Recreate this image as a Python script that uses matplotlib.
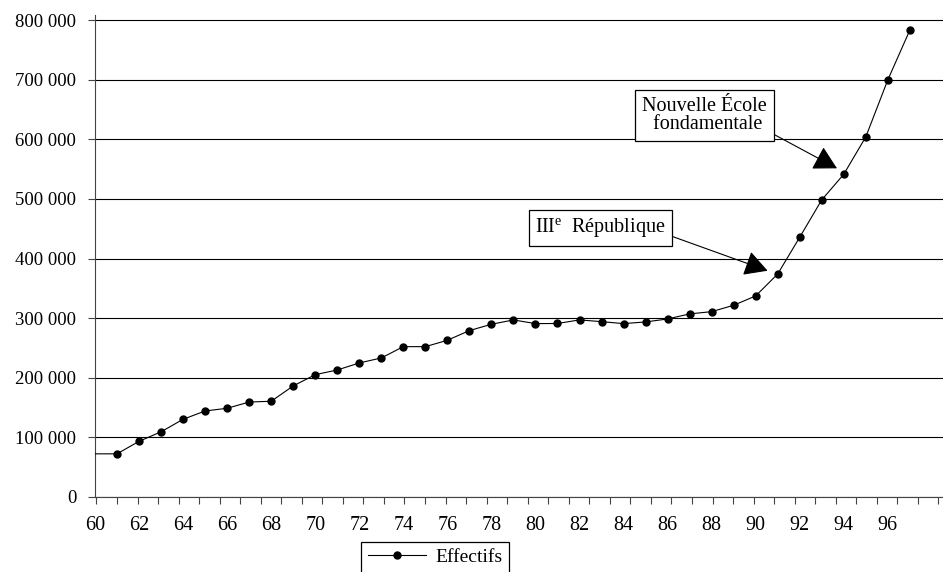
import matplotlib
matplotlib.use("Agg")
import matplotlib.pyplot as plt
import numpy as np

plt.rcParams['font.family'] = ['Liberation Serif', 'DejaVu Serif']
plt.rcParams['mathtext.fontset'] = 'custom'
plt.rcParams['mathtext.rm'] = 'Liberation Serif'

# Effectifs par année (60 = 1960)
years = list(range(60, 98))
effectifs = [72000, 72000, 93000, 109000, 130000, 144000, 148500, 159000, 160300,
             186000, 205000, 212800, 224600, 233000, 252000, 252000, 262700, 279000,
             289600, 296900, 290700, 290900, 296900, 294000, 290700, 293500, 298500,
             307000, 310800, 321500, 337200, 374100, 435800, 498500, 541600, 604300,
             700100, 783600]
year_labels = list(range(60, 97, 2))
y_ticks = list(range(0, 800001, 100000))

W, H = 943, 572
fig = plt.figure(figsize=(W / 100, H / 100), dpi=100)
ax = fig.add_axes([95 / W, 1 - 496.7 / H, (W - 95) / W, 481.7 / H])

# ligne + points (pas de point pour 60, caché contre l'axe)
ax.plot(years, effectifs, color='black', linewidth=0.8, marker='o', markersize=5,
        markevery=list(range(1, len(years))), label='Effectifs', zorder=3)

ax.set_xlim(60.065, 98.505)
ax.set_ylim(0, 809000)

# grille horizontale
ax.set_yticks(y_ticks)
ax.set_yticklabels([f"{v:,}".replace(",", " ") for v in y_ticks])
ax.yaxis.grid(True, color='black', linewidth=0.8)
ax.set_axisbelow(True)

# étiquettes des années, petites graduations régulières
ax.set_xticks(year_labels)
ax.set_xticklabels([str(y) for y in year_labels])
ax.set_xticks(np.linspace(60.065, 98.3, 42), minor=True)
ax.tick_params(axis='x', which='major', length=0, pad=14, labelsize=14.5)
ax.tick_params(axis='x', which='minor', length=5, width=0.8, color='#444444',
               direction='out')
ax.tick_params(axis='y', length=5, width=0.8, color='#444444', pad=8.5,
               labelsize=13.5)

for s in ['top', 'right']:
    ax.spines[s].set_visible(False)
for s in ['left', 'bottom']:
    ax.spines[s].set_color('#444444')
    ax.spines[s].set_linewidth(0.8)

arrow = dict(arrowstyle='-|>,head_length=1.0,head_width=0.55', color='black',
             lw=0.8, mutation_scale=14.4, shrinkA=0, shrinkB=0)

ax.annotate('Nouvelle École\n fondamentale', xy=(93.69, 551500), xycoords='data',
            xytext=(704.7, H - 115.7), textcoords='figure pixels',
            ha='center', va='center', fontsize=14.5, linespacing=0.9,
            bbox=dict(boxstyle='square,pad=0.35', facecolor='white',
                      edgecolor='black', lw=0.9),
            arrowprops=dict(arrow, relpos=(1.0, 0.09)))

ax.annotate('III$^{\\mathrm{e}}$  République', xy=(90.54, 379500), xycoords='data',
            xytext=(600.5, H - 227.7), textcoords='figure pixels',
            ha='center', va='center', fontsize=14.5,
            bbox=dict(boxstyle='square,pad=0.3', facecolor='white',
                      edgecolor='black', lw=0.9),
            arrowprops=dict(arrow, relpos=(1.0, 0.23)))

leg = fig.legend(loc='upper left', bbox_to_anchor=(360.7 / W, 1 - 541.7 / H),
                 bbox_transform=fig.transFigure, fontsize=14, frameon=True,
                 fancybox=False, edgecolor='black', framealpha=1,
                 handlelength=3.0, handletextpad=0.5, borderpad=0.35,
                 borderaxespad=0)
leg.get_frame().set_linewidth(0.9)

fig.savefig('out.png', dpi=100)
